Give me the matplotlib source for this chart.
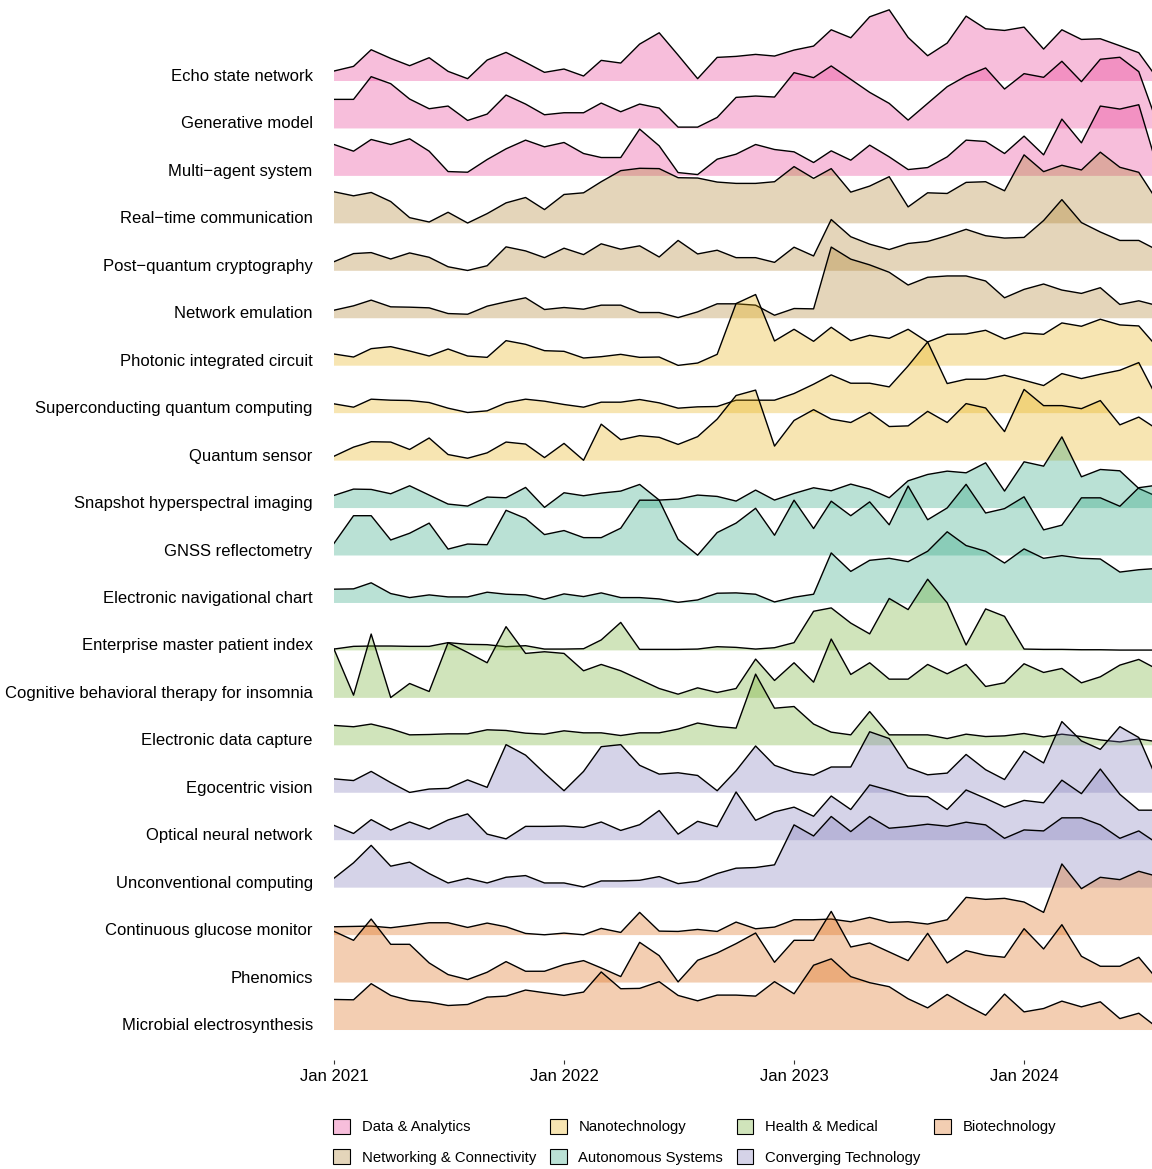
import matplotlib
matplotlib.use('Agg')
import matplotlib.pyplot as plt
import matplotlib.dates as mdates
from matplotlib.colors import to_rgba
from matplotlib.patches import Patch
import numpy as np
import pandas as pd

plt.rcParams['font.family'] = ['Liberation Sans', 'DejaVu Sans']

# monthly search interest, Jan 2021 .. Aug 2024 (last month partial)
months = pd.date_range('2021-01-01', periods=44, freq='MS')

topics = ['Echo state network', 'Generative model', 'Multi\u2212agent system',
          'Real\u2212time communication', 'Post\u2212quantum cryptography', 'Network emulation',
          'Photonic integrated circuit', 'Superconducting quantum computing', 'Quantum sensor',
          'Snapshot hyperspectral imaging', 'GNSS reflectometry', 'Electronic navigational chart',
          'Enterprise master patient index', 'Cognitive behavioral therapy for insomnia',
          'Electronic data capture', 'Egocentric vision', 'Optical neural network',
          'Unconventional computing', 'Continuous glucose monitor', 'Phenomics',
          'Microbial electrosynthesis']

topic_category = ['Data & Analytics'] * 3 + ['Networking & Connectivity'] * 3 + \
                 ['Nanotechnology'] * 3 + ['Autonomous Systems'] * 3 + \
                 ['Health & Medical'] * 3 + ['Converging Technology'] * 3 + \
                 ['Biotechnology'] * 3

categories = ['Data & Analytics', 'Networking & Connectivity', 'Nanotechnology',
              'Autonomous Systems', 'Health & Medical', 'Converging Technology',
              'Biotechnology']
category_colors = ['#E7298A', '#A6761D', '#E6AB02', '#1B9E77', '#66A61E', '#7570B3', '#D95F02']

echo_state = [30, 44, 94, 68, 46, 70, 29, 7, 63, 86, 56, 26, 36, 15, 62, 54, 111, 145, 78, 7, 71, 74,
              80, 75, 93, 105, 154, 130, 193, 214, 131, 76, 114, 195, 157, 152, 162, 96, 154, 125, 127, 106, 85, 4]
generative_model = [87, 87, 155, 134, 88, 59, 67, 24, 43, 100, 73, 41, 47, 47, 76, 50, 73, 61, 4, 4, 33, 93,
                    97, 94, 167, 152, 187, 147, 108, 75, 25, 75, 125, 157, 181, 118, 164, 153, 201, 140, 207, 213, 170, 7]
multi_agent = [94, 74, 109, 94, 111, 74, 13, 11, 49, 81, 107, 87, 100, 67, 55, 55, 140, 90, 10, 4, 50, 65,
               94, 79, 72, 40, 75, 47, 92, 57, 19, 25, 57, 107, 103, 67, 119, 63, 170, 99, 209, 200, 213, 17]
real_time = [94, 82, 92, 65, 17, 4, 33, 1, 29, 61, 77, 41, 86, 91, 124, 157, 164, 163, 136, 135, 123, 119,
             119, 124, 169, 134, 163, 93, 111, 139, 49, 91, 89, 122, 124, 97, 204, 154, 173, 159, 212, 167, 152, 62]
post_quantum = [27, 51, 54, 35, 53, 40, 12, 1, 15, 71, 59, 39, 67, 48, 80, 64, 74, 41, 90, 50, 61, 39,
                39, 25, 70, 44, 152, 101, 79, 63, 81, 87, 104, 123, 104, 97, 99, 149, 211, 143, 115, 90, 90, 60]
network_emulation = [24, 37, 54, 34, 33, 31, 14, 12, 36, 49, 61, 26, 32, 27, 39, 39, 17, 17, 2, 19, 43, 43,
                     39, 9, 29, 28, 212, 176, 159, 137, 99, 122, 126, 126, 111, 61, 86, 102, 84, 74, 91, 41, 52, 37]
photonic = [35, 26, 51, 57, 44, 29, 50, 29, 25, 75, 64, 45, 43, 23, 27, 34, 25, 26, 1, 8, 34, 186,
            213, 74, 109, 73, 115, 75, 91, 82, 109, 71, 94, 95, 106, 80, 98, 94, 128, 118, 139, 122, 119, 52]
superconducting = [28, 18, 42, 39, 38, 32, 15, 2, 7, 31, 42, 36, 26, 18, 33, 33, 41, 31, 15, 19, 20, 39,
                   39, 39, 59, 87, 115, 90, 90, 79, 142, 214, 89, 102, 102, 114, 99, 83, 119, 104, 117, 129, 152, 39]
quantum_sensor = [13, 40, 56, 55, 33, 67, 18, 7, 23, 55, 49, 9, 51, 1, 108, 62, 74, 69, 48, 71, 123, 193,
                  209, 43, 119, 151, 123, 113, 143, 101, 103, 146, 113, 169, 156, 86, 211, 163, 163, 154, 178, 106, 129, 91]
snapshot = [38, 57, 56, 43, 67, 39, 12, 6, 33, 31, 62, 2, 46, 37, 45, 51, 71, 24, 27, 39, 35, 21,
            54, 24, 44, 61, 52, 72, 57, 31, 82, 101, 111, 106, 136, 51, 139, 126, 214, 94, 116, 112, 59, 33]
gnss = [36, 118, 118, 46, 66, 96, 19, 34, 32, 134, 110, 62, 74, 53, 53, 81, 164, 164, 48, 1, 68, 96,
        140, 60, 164, 80, 161, 118, 159, 91, 206, 106, 141, 211, 126, 139, 174, 76, 90, 171, 171, 146, 201, 209]
nav_chart = [41, 42, 60, 28, 16, 24, 18, 18, 32, 26, 24, 11, 27, 19, 30, 16, 16, 12, 2, 9, 29, 30,
             26, 3, 17, 26, 149, 94, 127, 133, 123, 154, 212, 171, 154, 119, 161, 133, 141, 133, 131, 92, 99, 103]
patient_index = [4, 12, 13, 13, 12, 12, 23, 18, 17, 11, 14, 4, 4, 5, 31, 83, 3, 3, 3, 4, 11, 9,
                 4, 8, 23, 116, 126, 81, 49, 154, 121, 211, 141, 16, 123, 101, 4, 3, 3, 2, 2, 1, 1, 1]
cbt_insomnia = [146, 8, 191, 1, 43, 19, 165, 136, 105, 213, 133, 138, 133, 81, 100, 81, 55, 28, 11, 30, 16, 28,
                116, 52, 105, 47, 176, 70, 105, 56, 56, 100, 72, 100, 34, 45, 102, 76, 88, 45, 63, 98, 115, 84]
data_capture = [59, 55, 63, 49, 31, 32, 34, 34, 46, 44, 36, 33, 43, 37, 37, 29, 37, 37, 48, 66, 56, 51,
                211, 110, 115, 63, 39, 31, 100, 31, 31, 31, 20, 33, 26, 28, 35, 25, 33, 26, 16, 10, 19, 10]
egocentric = [41, 36, 63, 30, 1, 11, 13, 38, 16, 142, 111, 58, 6, 63, 136, 142, 81, 55, 59, 51, 6, 65,
              138, 81, 61, 52, 76, 76, 180, 160, 74, 53, 58, 113, 68, 39, 123, 88, 210, 153, 128, 195, 163, 31]
optical_nn = [44, 20, 61, 30, 54, 33, 60, 78, 18, 4, 41, 41, 42, 38, 54, 29, 46, 88, 18, 56, 40, 143,
              59, 84, 98, 71, 131, 91, 164, 148, 131, 129, 91, 149, 124, 98, 118, 111, 178, 138, 211, 136, 89, 89]
unconventional = [28, 74, 126, 64, 76, 42, 14, 28, 14, 31, 36, 14, 14, 2, 20, 20, 22, 33, 12, 19, 42, 58,
                  60, 68, 187, 154, 212, 167, 212, 177, 182, 189, 183, 195, 187, 147, 172, 169, 208, 208, 187, 147, 169, 130]
glucose = [25, 26, 27, 22, 29, 37, 37, 23, 36, 25, 5, 1, 6, 1, 20, 8, 68, 12, 11, 17, 11, 39,
           19, 24, 46, 46, 48, 40, 53, 38, 40, 33, 46, 113, 107, 110, 99, 68, 213, 139, 173, 166, 191, 175]
phenomics = [154, 127, 191, 115, 115, 59, 24, 9, 31, 63, 34, 34, 54, 66, 44, 18, 121, 81, 2, 67, 89, 117,
             149, 61, 127, 127, 214, 107, 119, 92, 66, 148, 59, 96, 82, 76, 162, 101, 174, 79, 49, 49, 76, 6]
microbial = [91, 90, 138, 103, 88, 83, 73, 76, 98, 101, 119, 111, 103, 113, 173, 123, 124, 144, 103, 87, 104, 104,
             101, 144, 108, 193, 212, 159, 141, 129, 93, 66, 106, 74, 44, 107, 54, 64, 86, 69, 84, 34, 50, 5]

series_values = [echo_state, generative_model, multi_agent, real_time, post_quantum,
                 network_emulation, photonic, superconducting, quantum_sensor, snapshot, gnss,
                 nav_chart, patient_index, cbt_insomnia, data_capture, egocentric, optical_nn,
                 unconventional, glucose, phenomics, microbial]

ridge_scale = 1.5
fill_alpha = 0.3

fig = plt.figure(figsize=(11.52, 11.69), dpi=100)
ax = fig.add_axes([334 / 1152, 1 - 1060 / 1169, 1 - 334 / 1152, 1060 / 1169])

n = len(topics)
color_of = dict(zip(categories, category_colors))
for i, (name, cat, vals) in enumerate(zip(topics, topic_category, series_values)):
    base = n - 1 - i
    v = np.asarray(vals, dtype=float)
    top = base + v / v.max() * ridge_scale
    ax.fill_between(months, base, top, facecolor=to_rgba(color_of[cat], fill_alpha),
                    linewidth=0, zorder=2 * i + 1)
    ax.plot(months, top, color='black', lw=1.0, zorder=2 * i + 2)

ax.set_yticks([n - 1 - i for i in range(n)], topics)
ax.set_ylim(-0.632, n - 1 + 1.707)
start = pd.Timestamp('2021-01-01')
ax.set_xlim(start, start + pd.Timedelta(days=1298))
ax.xaxis.set_major_locator(mdates.YearLocator())
ax.xaxis.set_major_formatter(mdates.DateFormatter('%b %Y'))

for s in ax.spines.values():
    s.set_visible(False)
ax.tick_params(axis='y', length=0, pad=15.3, labelsize=12)
ax.tick_params(axis='x', length=3, width=0.8, color='#333333', pad=3.8, labelsize=12)
for t in ax.get_yticklabels():
    t.set_verticalalignment('baseline')

handles = [Patch(facecolor=to_rgba(c, fill_alpha), edgecolor='black', linewidth=0.8, label=cat)
           for cat, c in zip(categories, category_colors)]
fig.legend(handles=handles, loc='upper left', bbox_to_anchor=(333 / 1152, 1 - 1119 / 1169),
           ncol=4, frameon=False, fontsize=10.7, handlelength=1.14, handleheight=1.14,
           handletextpad=0.8, columnspacing=0.9, labelspacing=1.0, borderpad=0, borderaxespad=0)

fig.savefig('out.png', dpi=100)
